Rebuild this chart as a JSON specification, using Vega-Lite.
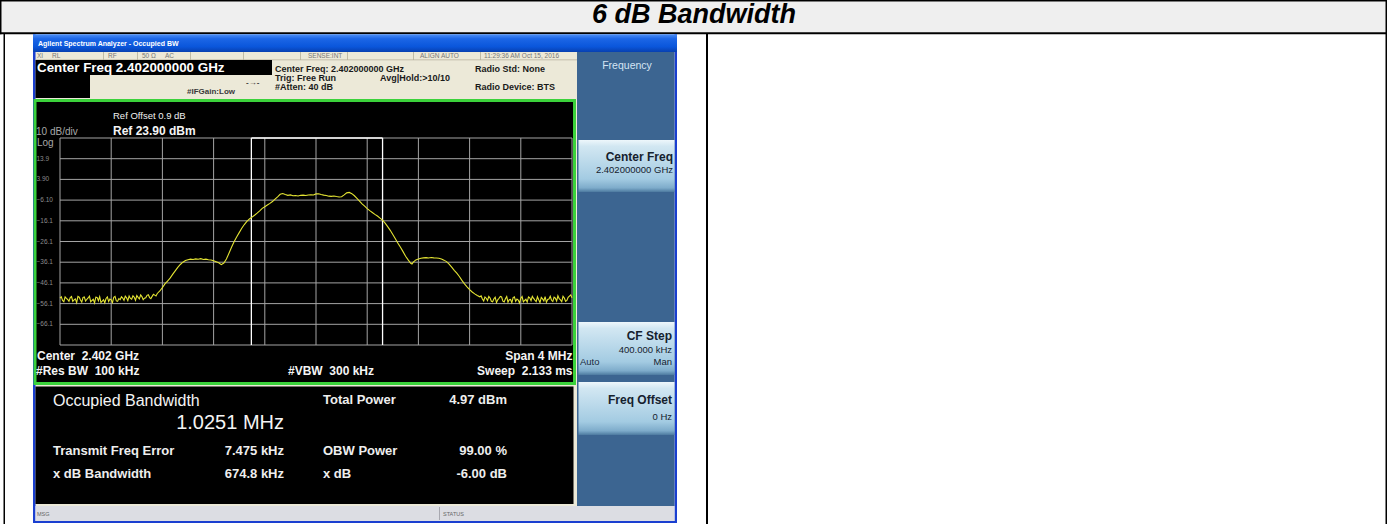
{
"$schema":"https://vega.github.io/schema/vega-lite/v6.json",
"width":512,"height":207,
"autosize":{"type":"none"},
"padding":{"left":60,"top":138,"right":815,"bottom":179},
"background":"white",
"config":{"view":{"stroke":null}},
"datasets":{
"rects":[
{"part":"headerBg","x1":1.5,"x2":1385.5,"y1":1.5,"y2":32.5},
{"part":"line","x1":0,"x2":1387,"y1":0,"y2":1.5},
{"part":"line","x1":0,"x2":1387,"y1":32.3,"y2":34.3},
{"part":"line","x1":0,"x2":1.5,"y1":0,"y2":34.3},
{"part":"line","x1":3.5,"x2":5,"y1":34,"y2":524},
{"part":"line","x1":706,"x2":708,"y1":34,"y2":524},
{"part":"line","x1":1385.5,"x2":1387,"y1":0,"y2":524},
{"part":"beige","x1":35,"x2":577,"y1":52,"y2":506},
{"part":"frame","x1":33,"x2":35.5,"y1":34,"y2":523},
{"part":"frame","x1":674.5,"x2":677,"y1":34,"y2":523},
{"part":"frame","x1":33,"x2":677,"y1":521,"y2":523},
{"part":"panel","x1":577,"x2":674.5,"y1":52,"y2":506},
{"part":"status","x1":35.5,"x2":674.5,"y1":506,"y2":521},
{"part":"sep","x1":35.5,"x2":577,"y1":59.5,"y2":60.2},
{"part":"sep","x1":103,"x2":103.8,"y1":52,"y2":60},
{"part":"sep","x1":137,"x2":137.8,"y1":52,"y2":60},
{"part":"sep","x1":190,"x2":190.8,"y1":52,"y2":60},
{"part":"sep","x1":243,"x2":243.8,"y1":52,"y2":60},
{"part":"sep","x1":300,"x2":300.8,"y1":52,"y2":60},
{"part":"sep","x1":347,"x2":347.8,"y1":52,"y2":60},
{"part":"sep","x1":413,"x2":413.8,"y1":52,"y2":60},
{"part":"sep","x1":480,"x2":480.8,"y1":52,"y2":60},
{"part":"black","x1":35.5,"x2":272,"y1":60,"y2":75},
{"part":"black","x1":35.5,"x2":90,"y1":75,"y2":98},
{"part":"green","x1":33.5,"x2":576,"y1":99,"y2":385},
{"part":"black","x1":36.5,"x2":573,"y1":102,"y2":382},
{"part":"black","x1":35.5,"x2":573.5,"y1":386.5,"y2":504},
{"part":"statusSep","x1":439,"x2":440,"y1":507,"y2":520},
{"part":"skText","x1":580,"x2":598,"y1":366.3,"y2":367}
],
"tbar":[{"x1":33,"x2":677,"y1":34.3,"y2":52}],
"keys":[
{"key":"Center Freq","x1":578.5,"x2":674.5,"y1":140,"y2":192},
{"key":"CF Step","x1":578.5,"x2":674.5,"y1":322,"y2":375},
{"key":"Freq Offset","x1":578.5,"x2":674.5,"y1":382,"y2":435}
],
"texts":[
{"role":"hdr","label":"6 dB Bandwidth","x":694,"y":14.5},
{"role":"tb","label":"Agilent Spectrum Analyzer - Occupied BW","x":38,"y":44},
{"role":"srow","label":"XI","x":37,"y":56},
{"role":"srow","label":"RL","x":52,"y":56},
{"role":"srow","label":"RF","x":108,"y":56},
{"role":"srow","label":"50 Ω","x":142,"y":56},
{"role":"srow","label":"AC","x":165,"y":56},
{"role":"srow","label":"SENSE:INT","x":308,"y":56},
{"role":"srow","label":"ALIGN AUTO","x":420,"y":56},
{"role":"srow","label":"11:29:36 AM Oct 15, 2016","x":484,"y":56},
{"role":"cf","label":"Center Freq 2.402000000 GHz","x":37,"y":67.5},
{"role":"info","label":"Center Freq: 2.402000000 GHz","x":275,"y":69},
{"role":"info","label":"Trig: Free Run","x":275,"y":78},
{"role":"info","label":"#Atten: 40 dB","x":275,"y":87},
{"role":"info","label":"Avg|Hold:>10/10","x":380,"y":78},
{"role":"info","label":"Radio Std: None","x":475,"y":69},
{"role":"info","label":"Radio Device: BTS","x":475,"y":87},
{"role":"ifg","label":"#IFGain:Low","x":187,"y":92},
{"role":"ifg","label":"-→-","x":246,"y":83},
{"role":"refoff","label":"Ref Offset 0.9 dB","x":113,"y":116},
{"role":"ref","label":"Ref 23.90 dBm","x":113,"y":130.5},
{"role":"scale","label":"10 dB/div","x":36,"y":131.5},
{"role":"scale","label":"Log","x":37,"y":142.5},
{"role":"foot","label":"Center\u00a0 2.402 GHz","x":37,"y":355.5},
{"role":"foot","label":"#Res BW\u00a0 100 kHz","x":36,"y":370.5},
{"role":"foot","label":"#VBW\u00a0 300 kHz","x":288,"y":370.5},
{"role":"footR","label":"Span 4 MHz","x":572.5,"y":355.5},
{"role":"footR","label":"Sweep\u00a0 2.133 ms","x":572.5,"y":370.5},
{"role":"occ","label":"Occupied Bandwidth","x":53,"y":401},
{"role":"big","label":"1.0251 MHz","x":284,"y":422.5},
{"role":"mlab","label":"Total Power","x":323,"y":400},
{"role":"mlab","label":"Transmit Freq Error","x":53,"y":450.5},
{"role":"mlab","label":"OBW Power","x":323,"y":450.5},
{"role":"mlab","label":"x dB Bandwidth","x":53,"y":473.5},
{"role":"mlab","label":"x dB","x":323,"y":473.5},
{"role":"mval","label":"4.97 dBm","x":507,"y":400},
{"role":"mval","label":"7.475 kHz","x":284,"y":450.5},
{"role":"mval","label":"99.00 %","x":507,"y":450.5},
{"role":"mval","label":"674.8 kHz","x":284,"y":473.5},
{"role":"mval","label":"-6.00 dB","x":507,"y":473.5},
{"role":"skTitle","label":"Frequency","x":627,"y":66},
{"role":"skMain","label":"Center Freq","x":673,"y":157},
{"role":"skMain","label":"CF Step","x":672,"y":335.5},
{"role":"skMain","label":"Freq Offset","x":672,"y":399.5},
{"role":"skSub","label":"2.402000000 GHz","x":673,"y":169.5},
{"role":"skSub","label":"400.000 kHz","x":672,"y":349.5},
{"role":"skSub","label":"Man","x":672,"y":362},
{"role":"skSub","label":"0 Hz","x":672,"y":417},
{"role":"skSubL","label":"Auto","x":580,"y":362},
{"role":"sbar","label":"MSG","x":37,"y":514},
{"role":"sbar","label":"STATUS","x":443,"y":514}
],
"levels":[{"dB":23.9},{"dB":13.9},{"dB":3.9},{"dB":-6.1},{"dB":-16.1},{"dB":-26.1},{"dB":-36.1},{"dB":-46.1},{"dB":-56.1},{"dB":-66.1},{"dB":-76.1}],
"divs":[{"freq":-2},{"freq":-1.6},{"freq":-1.2},{"freq":-0.8},{"freq":-0.4},{"freq":0},{"freq":0.4},{"freq":0.8},{"freq":1.2},{"freq":1.6},{"freq":2}],
"obw":[{"lo":-0.505,"hi":0.52}],
"trace":[
{"freq":-2.00,"dB":-53.5},{"freq":-1.98,"dB":-54.6},{"freq":-1.96,"dB":-52.9},{"freq":-1.94,"dB":-54.1},{"freq":-1.92,"dB":-53.2},{"freq":-1.90,"dB":-55.0},{"freq":-1.88,"dB":-53.8},{"freq":-1.86,"dB":-52.6},{"freq":-1.84,"dB":-54.4},{"freq":-1.82,"dB":-53.1},{"freq":-1.80,"dB":-54.9},{"freq":-1.78,"dB":-53.4},{"freq":-1.76,"dB":-55.3},{"freq":-1.74,"dB":-54.0},{"freq":-1.72,"dB":-53.0},{"freq":-1.70,"dB":-54.7},{"freq":-1.68,"dB":-55.5},{"freq":-1.66,"dB":-54.2},{"freq":-1.64,"dB":-53.6},{"freq":-1.62,"dB":-55.1},{"freq":-1.60,"dB":-54.3},{"freq":-1.58,"dB":-53.1},{"freq":-1.56,"dB":-54.8},{"freq":-1.54,"dB":-53.7},{"freq":-1.52,"dB":-52.8},{"freq":-1.50,"dB":-54.5},{"freq":-1.48,"dB":-53.3},{"freq":-1.46,"dB":-52.4},{"freq":-1.44,"dB":-54.0},{"freq":-1.42,"dB":-53.0},{"freq":-1.40,"dB":-52.2},{"freq":-1.38,"dB":-53.8},{"freq":-1.36,"dB":-52.7},{"freq":-1.34,"dB":-53.5},{"freq":-1.32,"dB":-52.1},{"freq":-1.30,"dB":-53.2},{"freq":-1.28,"dB":-52.6},{"freq":-1.26,"dB":-52.0},{"freq":-1.24,"dB":-51.2},
{"freq":-1.99,"dB":-52.8},{"freq":-1.97,"dB":-55.2},{"freq":-1.95,"dB":-53.6},{"freq":-1.93,"dB":-55.0},{"freq":-1.91,"dB":-52.7},{"freq":-1.89,"dB":-54.3},{"freq":-1.87,"dB":-55.6},{"freq":-1.85,"dB":-53.0},{"freq":-1.83,"dB":-55.4},{"freq":-1.81,"dB":-52.9},{"freq":-1.79,"dB":-54.0},{"freq":-1.77,"dB":-52.5},{"freq":-1.75,"dB":-54.6},{"freq":-1.73,"dB":-55.8},{"freq":-1.71,"dB":-53.1},{"freq":-1.69,"dB":-52.7},{"freq":-1.67,"dB":-54.9},{"freq":-1.65,"dB":-55.7},{"freq":-1.63,"dB":-52.9},{"freq":-1.61,"dB":-53.9},{"freq":-1.59,"dB":-55.6},{"freq":-1.57,"dB":-52.6},{"freq":-1.55,"dB":-55.0},{"freq":-1.53,"dB":-54.2},{"freq":-1.51,"dB":-53.4},{"freq":-1.49,"dB":-52.5},{"freq":-1.47,"dB":-54.7},{"freq":-1.45,"dB":-53.6},{"freq":-1.43,"dB":-52.3},{"freq":-1.41,"dB":-54.5},{"freq":-1.39,"dB":-53.1},{"freq":-1.37,"dB":-51.9},{"freq":-1.35,"dB":-54.2},{"freq":-1.33,"dB":-53.3},{"freq":-1.31,"dB":-51.8},{"freq":-1.29,"dB":-53.7},{"freq":-1.27,"dB":-51.6},{"freq":-1.25,"dB":-52.4},
{"freq":-1.22,"dB":-50.0},{"freq":-1.20,"dB":-48.4},{"freq":-1.18,"dB":-46.6},{"freq":-1.16,"dB":-45.2},{"freq":-1.14,"dB":-43.8},{"freq":-1.12,"dB":-42.0},{"freq":-1.10,"dB":-40.3},{"freq":-1.08,"dB":-38.6},{"freq":-1.06,"dB":-37.2},{"freq":-1.04,"dB":-36.1},{"freq":-1.02,"dB":-35.3},{"freq":-1.00,"dB":-34.9},{"freq":-0.98,"dB":-34.6},{"freq":-0.96,"dB":-34.8},{"freq":-0.94,"dB":-34.5},{"freq":-0.92,"dB":-34.7},{"freq":-0.90,"dB":-34.4},{"freq":-0.88,"dB":-34.8},{"freq":-0.86,"dB":-34.6},{"freq":-0.84,"dB":-34.9},{"freq":-0.82,"dB":-35.0},{"freq":-0.80,"dB":-35.4},{"freq":-0.78,"dB":-35.9},{"freq":-0.76,"dB":-36.4},{"freq":-0.74,"dB":-37.3},{"freq":-0.72,"dB":-36.5},{"freq":-0.70,"dB":-34.6},{"freq":-0.68,"dB":-31.8},{"freq":-0.66,"dB":-28.9},{"freq":-0.64,"dB":-26.2},{"freq":-0.62,"dB":-23.9},{"freq":-0.60,"dB":-21.8},{"freq":-0.58,"dB":-19.7},{"freq":-0.56,"dB":-17.9},{"freq":-0.54,"dB":-16.4},{"freq":-0.52,"dB":-15.2},{"freq":-0.50,"dB":-14.3},{"freq":-0.48,"dB":-13.4},{"freq":-0.46,"dB":-12.4},{"freq":-0.44,"dB":-11.3},{"freq":-0.42,"dB":-10.1},{"freq":-0.40,"dB":-9.3},{"freq":-0.38,"dB":-8.5},{"freq":-0.36,"dB":-7.7},{"freq":-0.34,"dB":-6.8},{"freq":-0.32,"dB":-5.6},{"freq":-0.30,"dB":-4.5},{"freq":-0.28,"dB":-3.3},{"freq":-0.26,"dB":-2.9},{"freq":-0.24,"dB":-3.4},{"freq":-0.22,"dB":-3.8},{"freq":-0.20,"dB":-3.6},{"freq":-0.18,"dB":-4.0},{"freq":-0.16,"dB":-3.9},{"freq":-0.14,"dB":-4.1},{"freq":-0.12,"dB":-3.8},{"freq":-0.10,"dB":-3.7},{"freq":-0.08,"dB":-3.9},{"freq":-0.06,"dB":-3.6},{"freq":-0.04,"dB":-3.5},{"freq":-0.02,"dB":-3.6},{"freq":0.00,"dB":-3.1},{"freq":0.02,"dB":-3.0},{"freq":0.04,"dB":-3.4},{"freq":0.06,"dB":-3.7},{"freq":0.08,"dB":-3.9},{"freq":0.10,"dB":-4.2},{"freq":0.12,"dB":-4.3},{"freq":0.14,"dB":-4.1},{"freq":0.16,"dB":-4.4},{"freq":0.18,"dB":-4.6},{"freq":0.20,"dB":-4.5},{"freq":0.22,"dB":-3.6},{"freq":0.24,"dB":-2.6},{"freq":0.26,"dB":-2.4},{"freq":0.28,"dB":-3.0},{"freq":0.30,"dB":-4.0},{"freq":0.32,"dB":-5.3},{"freq":0.34,"dB":-6.6},{"freq":0.36,"dB":-7.9},{"freq":0.38,"dB":-9.0},{"freq":0.40,"dB":-10.2},{"freq":0.42,"dB":-11.2},{"freq":0.44,"dB":-12.1},{"freq":0.46,"dB":-13.0},{"freq":0.48,"dB":-13.8},{"freq":0.50,"dB":-14.8},{"freq":0.52,"dB":-15.8},{"freq":0.54,"dB":-17.2},{"freq":0.56,"dB":-18.9},{"freq":0.58,"dB":-20.7},{"freq":0.60,"dB":-22.7},{"freq":0.62,"dB":-24.8},{"freq":0.64,"dB":-26.9},{"freq":0.66,"dB":-28.9},{"freq":0.68,"dB":-31.0},{"freq":0.70,"dB":-33.2},{"freq":0.72,"dB":-35.0},{"freq":0.74,"dB":-36.6},{"freq":0.75,"dB":-37.0},{"freq":0.76,"dB":-36.1},{"freq":0.78,"dB":-35.0},{"freq":0.80,"dB":-34.6},{"freq":0.82,"dB":-34.2},{"freq":0.84,"dB":-34.0},{"freq":0.86,"dB":-33.9},{"freq":0.88,"dB":-34.1},{"freq":0.90,"dB":-33.8},{"freq":0.92,"dB":-34.0},{"freq":0.94,"dB":-34.1},{"freq":0.96,"dB":-34.2},{"freq":0.98,"dB":-34.6},{"freq":1.00,"dB":-35.1},{"freq":1.02,"dB":-35.8},{"freq":1.04,"dB":-37.0},{"freq":1.06,"dB":-38.5},{"freq":1.08,"dB":-40.0},{"freq":1.10,"dB":-41.4},{"freq":1.12,"dB":-43.0},{"freq":1.14,"dB":-44.9},{"freq":1.16,"dB":-46.6},{"freq":1.18,"dB":-48.0},{"freq":1.20,"dB":-49.3},{"freq":1.22,"dB":-50.5},{"freq":1.24,"dB":-51.4},{"freq":1.26,"dB":-52.2},{"freq":1.28,"dB":-52.8},
{"freq":1.30,"dB":-53.9},{"freq":1.32,"dB":-52.9},{"freq":1.34,"dB":-54.6},{"freq":1.36,"dB":-53.4},{"freq":1.38,"dB":-55.2},{"freq":1.40,"dB":-53.0},{"freq":1.42,"dB":-54.3},{"freq":1.44,"dB":-52.6},{"freq":1.46,"dB":-54.9},{"freq":1.48,"dB":-53.8},{"freq":1.50,"dB":-55.4},{"freq":1.52,"dB":-54.1},{"freq":1.54,"dB":-53.2},{"freq":1.56,"dB":-55.0},{"freq":1.58,"dB":-54.4},{"freq":1.60,"dB":-53.5},{"freq":1.62,"dB":-55.3},{"freq":1.64,"dB":-54.0},{"freq":1.66,"dB":-52.9},{"freq":1.68,"dB":-54.7},{"freq":1.70,"dB":-53.6},{"freq":1.72,"dB":-55.1},{"freq":1.74,"dB":-54.2},{"freq":1.76,"dB":-53.1},{"freq":1.78,"dB":-54.8},{"freq":1.80,"dB":-55.5},{"freq":1.82,"dB":-53.9},{"freq":1.84,"dB":-54.5},{"freq":1.86,"dB":-53.0},{"freq":1.88,"dB":-54.9},{"freq":1.90,"dB":-53.7},{"freq":1.92,"dB":-55.2},{"freq":1.94,"dB":-53.4},{"freq":1.96,"dB":-54.6},{"freq":1.98,"dB":-52.5},{"freq":2.00,"dB":-53.3},
{"freq":1.29,"dB":-52.4},{"freq":1.31,"dB":-54.8},{"freq":1.33,"dB":-53.5},{"freq":1.35,"dB":-52.6},{"freq":1.37,"dB":-55.0},{"freq":1.39,"dB":-53.8},{"freq":1.41,"dB":-55.6},{"freq":1.43,"dB":-53.5},{"freq":1.45,"dB":-52.9},{"freq":1.47,"dB":-55.3},{"freq":1.49,"dB":-52.7},{"freq":1.51,"dB":-54.2},{"freq":1.53,"dB":-55.7},{"freq":1.55,"dB":-52.8},{"freq":1.57,"dB":-53.9},{"freq":1.59,"dB":-55.8},{"freq":1.61,"dB":-52.7},{"freq":1.63,"dB":-54.6},{"freq":1.65,"dB":-55.4},{"freq":1.67,"dB":-53.3},{"freq":1.69,"dB":-52.6},{"freq":1.71,"dB":-54.4},{"freq":1.73,"dB":-52.8},{"freq":1.75,"dB":-55.6},{"freq":1.77,"dB":-53.8},{"freq":1.79,"dB":-52.7},{"freq":1.81,"dB":-54.1},{"freq":1.83,"dB":-52.6},{"freq":1.85,"dB":-55.1},{"freq":1.87,"dB":-53.5},{"freq":1.89,"dB":-52.3},{"freq":1.91,"dB":-54.3},{"freq":1.93,"dB":-52.6},{"freq":1.95,"dB":-55.0},{"freq":1.97,"dB":-53.1},{"freq":1.99,"dB":-51.9}
]
},
"layer":[
{"layer":[
{"data":{"name":"rects"},"mark":{"type":"rect"},
 "encoding":{
 "x":{"field":"x1","type":"quantitative","scale":{"domain":[60,572],"nice":false,"zero":false},"axis":null},
 "x2":{"field":"x2"},
 "y":{"field":"y1","type":"quantitative","scale":{"domain":[138,345],"nice":false,"zero":false,"reverse":true},"axis":null},
 "y2":{"field":"y2"},
 "color":{"field":"part","type":"nominal","legend":null,"scale":{"domain":["headerBg","line","beige","frame","panel","status","sep","black","green","statusSep","skText"],"range":["#efefef","#000000","#ece9d8","#1a3fd0","#3c6591","#dcdde3","#b5b09a","#000000","#3bd23b","#a8a8b0","#1a2a3c"]}}}},
{"data":{"name":"tbar"},"mark":{"type":"rect","fill":{"gradient":"linear","x1":0,"y1":0,"x2":0,"y2":1,"stops":[{"offset":0,"color":"#4d8ff5"},{"offset":0.25,"color":"#1c66e6"},{"offset":0.7,"color":"#0a56db"},{"offset":1,"color":"#0840b0"}]}},
 "encoding":{
 "x":{"field":"x1","type":"quantitative","scale":{"domain":[60,572],"nice":false,"zero":false},"axis":null},
 "x2":{"field":"x2"},
 "y":{"field":"y1","type":"quantitative","scale":{"domain":[138,345],"nice":false,"zero":false,"reverse":true},"axis":null},
 "y2":{"field":"y2"}}},
{"data":{"name":"keys"},"mark":{"type":"rect","fill":{"gradient":"linear","x1":0,"y1":0,"x2":0,"y2":1,"stops":[{"offset":0,"color":"#eef7fb"},{"offset":0.12,"color":"#d2e7f2"},{"offset":0.75,"color":"#a3cbe2"},{"offset":0.92,"color":"#7eaccb"},{"offset":1,"color":"#4d7aa0"}]}},
 "encoding":{
 "x":{"field":"x1","type":"quantitative","scale":{"domain":[60,572],"nice":false,"zero":false},"axis":null},
 "x2":{"field":"x2"},
 "y":{"field":"y1","type":"quantitative","scale":{"domain":[138,345],"nice":false,"zero":false,"reverse":true},"axis":null},
 "y2":{"field":"y2"}}},
{"data":{"name":"texts"},"transform":[{"filter":"datum.role==='hdr'"}],"mark":{"type":"text","font":"Liberation Sans","fontSize":27,"fontWeight":"bold","fontStyle":"italic","align":"center","baseline":"middle","color":"#000000"},
 "encoding":{"x":{"field":"x","type":"quantitative","scale":{"domain":[60,572],"nice":false,"zero":false},"axis":null},"y":{"field":"y","type":"quantitative","scale":{"domain":[138,345],"nice":false,"zero":false,"reverse":true},"axis":null},"text":{"field":"label"}}},
{"data":{"name":"texts"},"transform":[{"filter":"datum.role==='tb'"}],"mark":{"type":"text","font":"Liberation Sans","fontSize":7,"fontWeight":"bold","align":"left","baseline":"middle","color":"#ffffff"},
 "encoding":{"x":{"field":"x","type":"quantitative","scale":{"domain":[60,572],"nice":false,"zero":false},"axis":null},"y":{"field":"y","type":"quantitative","scale":{"domain":[138,345],"nice":false,"zero":false,"reverse":true},"axis":null},"text":{"field":"label"}}},
{"data":{"name":"texts"},"transform":[{"filter":"datum.role==='srow'"}],"mark":{"type":"text","font":"Liberation Sans","fontSize":6.5,"align":"left","baseline":"middle","color":"#777777"},
 "encoding":{"x":{"field":"x","type":"quantitative","scale":{"domain":[60,572],"nice":false,"zero":false},"axis":null},"y":{"field":"y","type":"quantitative","scale":{"domain":[138,345],"nice":false,"zero":false,"reverse":true},"axis":null},"text":{"field":"label"}}},
{"data":{"name":"texts"},"transform":[{"filter":"datum.role==='cf'"}],"mark":{"type":"text","font":"Liberation Sans","fontSize":13.4,"fontWeight":"bold","align":"left","baseline":"middle","color":"#ffffff"},
 "encoding":{"x":{"field":"x","type":"quantitative","scale":{"domain":[60,572],"nice":false,"zero":false},"axis":null},"y":{"field":"y","type":"quantitative","scale":{"domain":[138,345],"nice":false,"zero":false,"reverse":true},"axis":null},"text":{"field":"label"}}},
{"data":{"name":"texts"},"transform":[{"filter":"datum.role==='info'"}],"mark":{"type":"text","font":"Liberation Sans","fontSize":9,"fontWeight":"bold","align":"left","baseline":"middle","color":"#1a1a1a"},
 "encoding":{"x":{"field":"x","type":"quantitative","scale":{"domain":[60,572],"nice":false,"zero":false},"axis":null},"y":{"field":"y","type":"quantitative","scale":{"domain":[138,345],"nice":false,"zero":false,"reverse":true},"axis":null},"text":{"field":"label"}}},
{"data":{"name":"texts"},"transform":[{"filter":"datum.role==='ifg'"}],"mark":{"type":"text","font":"Liberation Sans","fontSize":8,"fontWeight":"bold","align":"left","baseline":"middle","color":"#3a3a3a"},
 "encoding":{"x":{"field":"x","type":"quantitative","scale":{"domain":[60,572],"nice":false,"zero":false},"axis":null},"y":{"field":"y","type":"quantitative","scale":{"domain":[138,345],"nice":false,"zero":false,"reverse":true},"axis":null},"text":{"field":"label"}}},
{"data":{"name":"texts"},"transform":[{"filter":"datum.role==='refoff'"}],"mark":{"type":"text","font":"Liberation Sans","fontSize":9.5,"align":"left","baseline":"middle","color":"#f0f0f0"},
 "encoding":{"x":{"field":"x","type":"quantitative","scale":{"domain":[60,572],"nice":false,"zero":false},"axis":null},"y":{"field":"y","type":"quantitative","scale":{"domain":[138,345],"nice":false,"zero":false,"reverse":true},"axis":null},"text":{"field":"label"}}},
{"data":{"name":"texts"},"transform":[{"filter":"datum.role==='ref'"}],"mark":{"type":"text","font":"Liberation Sans","fontSize":12,"fontWeight":"bold","align":"left","baseline":"middle","color":"#f4f4f4"},
 "encoding":{"x":{"field":"x","type":"quantitative","scale":{"domain":[60,572],"nice":false,"zero":false},"axis":null},"y":{"field":"y","type":"quantitative","scale":{"domain":[138,345],"nice":false,"zero":false,"reverse":true},"axis":null},"text":{"field":"label"}}},
{"data":{"name":"texts"},"transform":[{"filter":"datum.role==='scale'"}],"mark":{"type":"text","font":"Liberation Sans","fontSize":10,"align":"left","baseline":"middle","color":"#a8a8a8"},
 "encoding":{"x":{"field":"x","type":"quantitative","scale":{"domain":[60,572],"nice":false,"zero":false},"axis":null},"y":{"field":"y","type":"quantitative","scale":{"domain":[138,345],"nice":false,"zero":false,"reverse":true},"axis":null},"text":{"field":"label"}}},
{"data":{"name":"texts"},"transform":[{"filter":"datum.role==='foot'"}],"mark":{"type":"text","font":"Liberation Sans","fontSize":12,"fontWeight":"bold","align":"left","baseline":"middle","color":"#f4f4f4"},
 "encoding":{"x":{"field":"x","type":"quantitative","scale":{"domain":[60,572],"nice":false,"zero":false},"axis":null},"y":{"field":"y","type":"quantitative","scale":{"domain":[138,345],"nice":false,"zero":false,"reverse":true},"axis":null},"text":{"field":"label"}}},
{"data":{"name":"texts"},"transform":[{"filter":"datum.role==='footR'"}],"mark":{"type":"text","font":"Liberation Sans","fontSize":12,"fontWeight":"bold","align":"right","baseline":"middle","color":"#f4f4f4"},
 "encoding":{"x":{"field":"x","type":"quantitative","scale":{"domain":[60,572],"nice":false,"zero":false},"axis":null},"y":{"field":"y","type":"quantitative","scale":{"domain":[138,345],"nice":false,"zero":false,"reverse":true},"axis":null},"text":{"field":"label"}}},
{"data":{"name":"texts"},"transform":[{"filter":"datum.role==='occ'"}],"mark":{"type":"text","font":"Liberation Sans","fontSize":16,"align":"left","baseline":"middle","color":"#f4f4f4"},
 "encoding":{"x":{"field":"x","type":"quantitative","scale":{"domain":[60,572],"nice":false,"zero":false},"axis":null},"y":{"field":"y","type":"quantitative","scale":{"domain":[138,345],"nice":false,"zero":false,"reverse":true},"axis":null},"text":{"field":"label"}}},
{"data":{"name":"texts"},"transform":[{"filter":"datum.role==='big'"}],"mark":{"type":"text","font":"Liberation Sans","fontSize":20,"align":"right","baseline":"middle","color":"#f4f4f4"},
 "encoding":{"x":{"field":"x","type":"quantitative","scale":{"domain":[60,572],"nice":false,"zero":false},"axis":null},"y":{"field":"y","type":"quantitative","scale":{"domain":[138,345],"nice":false,"zero":false,"reverse":true},"axis":null},"text":{"field":"label"}}},
{"data":{"name":"texts"},"transform":[{"filter":"datum.role==='mlab'"}],"mark":{"type":"text","font":"Liberation Sans","fontSize":13,"fontWeight":"bold","align":"left","baseline":"middle","color":"#eeeeee"},
 "encoding":{"x":{"field":"x","type":"quantitative","scale":{"domain":[60,572],"nice":false,"zero":false},"axis":null},"y":{"field":"y","type":"quantitative","scale":{"domain":[138,345],"nice":false,"zero":false,"reverse":true},"axis":null},"text":{"field":"label"}}},
{"data":{"name":"texts"},"transform":[{"filter":"datum.role==='mval'"}],"mark":{"type":"text","font":"Liberation Sans","fontSize":13,"fontWeight":"bold","align":"right","baseline":"middle","color":"#eeeeee"},
 "encoding":{"x":{"field":"x","type":"quantitative","scale":{"domain":[60,572],"nice":false,"zero":false},"axis":null},"y":{"field":"y","type":"quantitative","scale":{"domain":[138,345],"nice":false,"zero":false,"reverse":true},"axis":null},"text":{"field":"label"}}},
{"data":{"name":"texts"},"transform":[{"filter":"datum.role==='skTitle'"}],"mark":{"type":"text","font":"Liberation Sans","fontSize":10.5,"align":"center","baseline":"middle","color":"#d4e4f4"},
 "encoding":{"x":{"field":"x","type":"quantitative","scale":{"domain":[60,572],"nice":false,"zero":false},"axis":null},"y":{"field":"y","type":"quantitative","scale":{"domain":[138,345],"nice":false,"zero":false,"reverse":true},"axis":null},"text":{"field":"label"}}},
{"data":{"name":"texts"},"transform":[{"filter":"datum.role==='skMain'"}],"mark":{"type":"text","font":"Liberation Sans","fontSize":12,"fontWeight":"bold","align":"right","baseline":"middle","color":"#15212e"},
 "encoding":{"x":{"field":"x","type":"quantitative","scale":{"domain":[60,572],"nice":false,"zero":false},"axis":null},"y":{"field":"y","type":"quantitative","scale":{"domain":[138,345],"nice":false,"zero":false,"reverse":true},"axis":null},"text":{"field":"label"}}},
{"data":{"name":"texts"},"transform":[{"filter":"datum.role==='skSub'"}],"mark":{"type":"text","font":"Liberation Sans","fontSize":9.5,"align":"right","baseline":"middle","color":"#15212e"},
 "encoding":{"x":{"field":"x","type":"quantitative","scale":{"domain":[60,572],"nice":false,"zero":false},"axis":null},"y":{"field":"y","type":"quantitative","scale":{"domain":[138,345],"nice":false,"zero":false,"reverse":true},"axis":null},"text":{"field":"label"}}},
{"data":{"name":"texts"},"transform":[{"filter":"datum.role==='skSubL'"}],"mark":{"type":"text","font":"Liberation Sans","fontSize":9.5,"align":"left","baseline":"middle","color":"#1a2a3c"},
 "encoding":{"x":{"field":"x","type":"quantitative","scale":{"domain":[60,572],"nice":false,"zero":false},"axis":null},"y":{"field":"y","type":"quantitative","scale":{"domain":[138,345],"nice":false,"zero":false,"reverse":true},"axis":null},"text":{"field":"label"}}},
{"data":{"name":"texts"},"transform":[{"filter":"datum.role==='sbar'"}],"mark":{"type":"text","font":"Liberation Sans","fontSize":5.5,"align":"left","baseline":"middle","color":"#666666"},
 "encoding":{"x":{"field":"x","type":"quantitative","scale":{"domain":[60,572],"nice":false,"zero":false},"axis":null},"y":{"field":"y","type":"quantitative","scale":{"domain":[138,345],"nice":false,"zero":false,"reverse":true},"axis":null},"text":{"field":"label"}}}
]},
{"layer":[
{"data":{"name":"levels"},"mark":{"type":"rule","color":"#a4a4a4","strokeWidth":1},
 "encoding":{"y":{"field":"dB","type":"quantitative","scale":{"domain":[-76.1,23.9],"nice":false,"zero":false},"axis":null},
 "x":{"datum":-2,"type":"quantitative","scale":{"domain":[-2,2],"nice":false,"zero":false},"axis":null},"x2":{"datum":2}}},
{"data":{"name":"divs"},"mark":{"type":"rule","color":"#a4a4a4","strokeWidth":1},
 "encoding":{"x":{"field":"freq","type":"quantitative","scale":{"domain":[-2,2],"nice":false,"zero":false},"axis":null},
 "y":{"datum":-76.1,"type":"quantitative","scale":{"domain":[-76.1,23.9],"nice":false,"zero":false},"axis":null},"y2":{"datum":23.9}}},
{"data":{"name":"obw"},"mark":{"type":"rule","color":"#ffffff","strokeWidth":1.3},
 "encoding":{"x":{"field":"lo","type":"quantitative","scale":{"domain":[-2,2],"nice":false,"zero":false},"axis":null},
 "y":{"datum":-76.1,"type":"quantitative","scale":{"domain":[-76.1,23.9],"nice":false,"zero":false},"axis":null},"y2":{"datum":23.9}}},
{"data":{"name":"obw"},"mark":{"type":"rule","color":"#ffffff","strokeWidth":1.3},
 "encoding":{"x":{"field":"hi","type":"quantitative","scale":{"domain":[-2,2],"nice":false,"zero":false},"axis":null},
 "y":{"datum":-76.1,"type":"quantitative","scale":{"domain":[-76.1,23.9],"nice":false,"zero":false},"axis":null},"y2":{"datum":23.9}}},
{"data":{"name":"obw"},"mark":{"type":"rule","color":"#ffffff","strokeWidth":1.3},
 "encoding":{"x":{"field":"lo","type":"quantitative","scale":{"domain":[-2,2],"nice":false,"zero":false},"axis":null},"x2":{"field":"hi"},
 "y":{"datum":23.9,"type":"quantitative","scale":{"domain":[-76.1,23.9],"nice":false,"zero":false},"axis":null}}},
{"data":{"name":"levels"},"transform":[{"filter":"datum.dB < 20 && datum.dB > -70"}],"mark":{"type":"text","font":"Liberation Sans","fontSize":6.5,"align":"left","baseline":"middle","color":"#8c8c8c"},
 "encoding":{"y":{"field":"dB","type":"quantitative","scale":{"domain":[-76.1,23.9],"nice":false,"zero":false},"axis":null},
 "x":{"datum":-2.1836,"type":"quantitative","scale":{"domain":[-2,2],"nice":false,"zero":false},"axis":null},
 "text":{"field":"dB","type":"quantitative","format":".3r"}}},
{"data":{"name":"trace"},"mark":{"type":"line","color":"#e4e433","strokeWidth":1.1},
 "encoding":{"x":{"field":"freq","type":"quantitative","scale":{"domain":[-2,2],"nice":false,"zero":false},"axis":null},
 "y":{"field":"dB","type":"quantitative","scale":{"domain":[-76.1,23.9],"nice":false,"zero":false},"axis":null}}}
]}
],
"resolve":{"scale":{"x":"independent","y":"independent","color":"independent"}}
}
